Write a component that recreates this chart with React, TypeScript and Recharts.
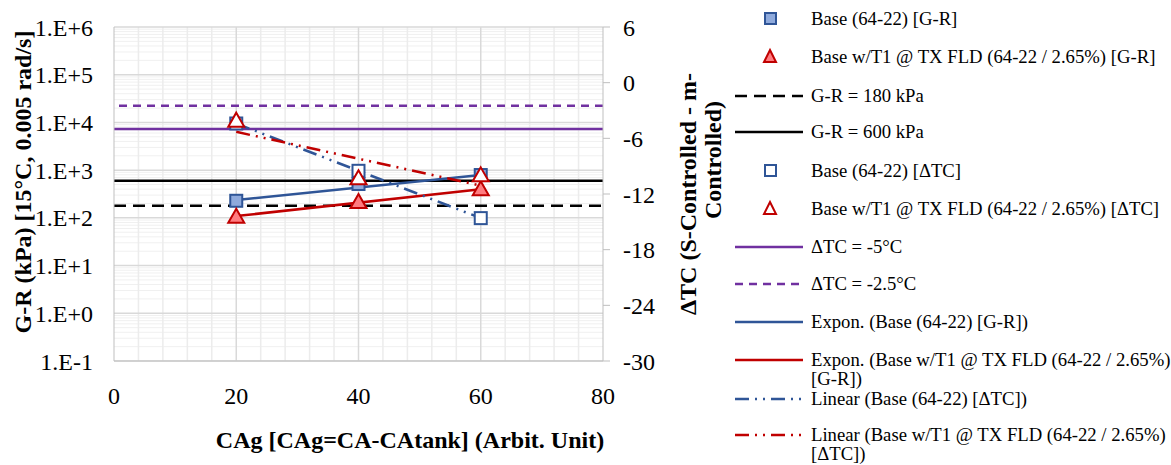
import React from "react";
import {
  ComposedChart,
  Scatter,
  Line,
  XAxis,
  YAxis,
  ReferenceLine,
} from "recharts";

// measured points (CAg on x)
const cag = [20, 40, 60];
const baseGR = [228, 512, 790];
const t1GR = [100, 204, 378];
const baseDTC = [-4.4, -9.5, -14.6];
const t1DTC = [-4.2, -10.4, -10.1];

// trendline ends
const trendX = [20, 60];
const baseGRTrend = [236, 790];
const t1GRTrend = [109, 396];
const baseDTCTrend = [-4.4, -14.6];
const t1DTCTrend = [-5.3, -11.1];

// thresholds
const grLow = 180;
const grHigh = 600;
const dtcLow = -5;
const dtcHigh = -2.5;

const xTicks = [0, 20, 40, 60, 80];
const leftTicks = [0.1, 1, 10, 100, 1000, 10000, 100000, 1000000];
const rightTicks = [-30, -24, -18, -12, -6, 0, 6];

const BLUE = "#2F5597";
const BLUE_FILL = "#8FAADC";
const RED = "#C00000";
const RED_FILL = "#FF7C80";
const PURPLE = "#7030A0";
const FONT = "Liberation Serif, Times New Roman, serif";

const pts = (xs: number[], ys: number[]) => xs.map((x, i) => ({ x, y: ys[i] }));

// excel-style minor grid positions
const minorY: number[] = [];
for (let e = -1; e < 6; e++) for (let m = 2; m <= 9; m++) minorY.push(m * Math.pow(10, e));
const minorX: number[] = [];
for (let v = 4; v < 80; v += 4) if (v % 20 !== 0) minorX.push(v);

const fmtExp = (v: number) => {
  const e = Math.round(Math.log10(v));
  return "1.E" + (e >= 0 ? "+" : "-") + Math.abs(e);
};

const square = (fill: string) => (p: any) =>
  <rect x={p.cx - 6} y={p.cy - 6} width={12} height={12} fill={fill} stroke={BLUE} strokeWidth={2} />;
const triangle = (fill: string) => (p: any) =>
  <polygon points={`${p.cx},${p.cy - 9} ${p.cx + 8},${p.cy + 5} ${p.cx - 8},${p.cy + 5}`} fill={fill} stroke={RED} strokeWidth={2} />;

type Sym = { kind: "sq" | "tri" | "line"; fill?: string; stroke: string; dash?: string };
const legendItems: { label: string[]; y: number; sym: Sym }[] = [
  { label: ["Base (64-22) [G-R]"], y: 19, sym: { kind: "sq", fill: BLUE_FILL, stroke: BLUE } },
  { label: ["Base w/T1 @ TX FLD (64-22 / 2.65%) [G-R]"], y: 57, sym: { kind: "tri", fill: RED_FILL, stroke: RED } },
  { label: ["G-R = 180 kPa"], y: 96, sym: { kind: "line", stroke: "#000", dash: "12 7" } },
  { label: ["G-R = 600 kPa"], y: 132, sym: { kind: "line", stroke: "#000" } },
  { label: ["Base (64-22) [\u0394TC]"], y: 171, sym: { kind: "sq", fill: "#fff", stroke: BLUE } },
  { label: ["Base w/T1 @ TX FLD (64-22 / 2.65%) [\u0394TC]"], y: 209, sym: { kind: "tri", fill: "#fff", stroke: RED } },
  { label: ["\u0394TC = -5\u00B0C"], y: 247, sym: { kind: "line", stroke: PURPLE } },
  { label: ["\u0394TC = -2.5\u00B0C"], y: 284, sym: { kind: "line", stroke: PURPLE, dash: "8 6" } },
  { label: ["Expon. (Base (64-22) [G-R])"], y: 322, sym: { kind: "line", stroke: BLUE } },
  { label: ["Expon. (Base w/T1 @ TX FLD (64-22 / 2.65%)", "[G-R])"], y: 360, sym: { kind: "line", stroke: RED } },
  { label: ["Linear (Base (64-22) [\u0394TC])"], y: 399, sym: { kind: "line", stroke: BLUE, dash: "14 6 2 6 2 6" } },
  { label: ["Linear (Base w/T1 @ TX FLD (64-22 / 2.65%)", "[\u0394TC])"], y: 435, sym: { kind: "line", stroke: RED, dash: "14 6 2 6 2 6" } },
];

function LegendSymbol({ sym }: { sym: Sym }) {
  return (
    <svg width={70} height={20} style={{ position: "absolute", left: 735, top: -10 }}>
      {sym.kind === "sq" && <rect x={30} y={4} width={11} height={11} fill={sym.fill} stroke={sym.stroke} strokeWidth={2} />}
      {sym.kind === "tri" && <polygon points="35,3 41,15 29,15" fill={sym.fill} stroke={sym.stroke} strokeWidth={2} />}
      {sym.kind === "line" && <line x1={0} y1={10} x2={68} y2={10} stroke={sym.stroke} strokeWidth={2.5} strokeDasharray={sym.dash} />}
    </svg>
  );
}

const titleStyle = { fontFamily: FONT, fontWeight: 700, fontSize: 24 };

export default function App() {
  return (
    <div style={{ position: "absolute", left: 0, top: 0, width: 1171, height: 465, background: "#fff", fontFamily: FONT }}>
      <style>{"svg text { font-family: 'Liberation Serif', 'Times New Roman', serif !important; }"}</style>
      <ComposedChart width={720} height={465} margin={{ top: 27, right: 0, bottom: 54, left: 0 }}>
        <XAxis
          type="number"
          dataKey="x"
          domain={[0, 80]}
          ticks={xTicks}
          height={50}
          stroke="#bfbfbf"
          tickLine={false}
          tickSize={0}
          tickMargin={26}
          tick={{ fill: "#000", fontSize: 24 }}
        />
        <YAxis
          yAxisId="left"
          type="number"
          scale="log"
          domain={[0.1, 1000000]}
          allowDataOverflow
          ticks={leftTicks}
          tickFormatter={fmtExp}
          width={114}
          stroke="#bfbfbf"
          tickLine={false}
          tickSize={0}
          tickMargin={21}
          tick={{ fill: "#000", fontSize: 24 }}
        />
        <YAxis
          yAxisId="right"
          orientation="right"
          type="number"
          domain={[-30, 6]}
          ticks={rightTicks}
          width={117}
          stroke="#bfbfbf"
          tickSize={7}
          tickMargin={13}
          tick={{ fill: "#000", fontSize: 24, textAnchor: "start" }}
        />

        {minorY.map((v) => (
          <ReferenceLine key={"my" + v} yAxisId="left" y={v} stroke="#f0f0f0" strokeWidth={1} />
        ))}
        {minorX.map((v) => (
          <ReferenceLine key={"mx" + v} yAxisId="left" x={v} stroke="#ececec" strokeWidth={1.5} />
        ))}
        {leftTicks.map((v) => (
          <ReferenceLine key={"My" + v} yAxisId="left" y={v} stroke="#d9d9d9" strokeWidth={1.5} />
        ))}
        {[20, 40, 60].map((v) => (
          <ReferenceLine key={"Mx" + v} yAxisId="left" x={v} stroke="#d9d9d9" strokeWidth={1.5} />
        ))}

        <ReferenceLine yAxisId="left" y={grLow} stroke="#000" strokeWidth={2.5} strokeDasharray="12 7" />
        <ReferenceLine yAxisId="left" y={grHigh} stroke="#000" strokeWidth={2.5} />
        <ReferenceLine yAxisId="right" y={dtcLow} stroke={PURPLE} strokeWidth={2.5} />
        <ReferenceLine yAxisId="right" y={dtcHigh} stroke={PURPLE} strokeWidth={2.5} strokeDasharray="8 6" />

        <Scatter yAxisId="left" data={pts(cag, baseGR)} dataKey="y" shape={square(BLUE_FILL)} isAnimationActive={false} />
        <Scatter yAxisId="left" data={pts(cag, t1GR)} dataKey="y" shape={triangle(RED_FILL)} isAnimationActive={false} />
        <Scatter yAxisId="right" data={pts(cag, baseDTC)} dataKey="y" shape={square("#fff")} isAnimationActive={false} />
        <Scatter yAxisId="right" data={pts(cag, t1DTC)} dataKey="y" shape={triangle("#fff")} isAnimationActive={false} />

        <Line yAxisId="left" data={pts(trendX, baseGRTrend)} dataKey="y" stroke={BLUE} strokeWidth={2.5} dot={false} isAnimationActive={false} />
        <Line yAxisId="left" data={pts(trendX, t1GRTrend)} dataKey="y" stroke={RED} strokeWidth={2.5} dot={false} isAnimationActive={false} />
        <Line yAxisId="right" data={pts(trendX, baseDTCTrend)} dataKey="y" stroke={BLUE} strokeWidth={2.5} strokeDasharray="14 6 2 6 2 6" dot={false} isAnimationActive={false} />
        <Line yAxisId="right" data={pts(trendX, t1DTCTrend)} dataKey="y" stroke={RED} strokeWidth={2.5} strokeDasharray="14 6 2 6 2 6" dot={false} isAnimationActive={false} />
      </ComposedChart>

      <svg width={1171} height={465} style={{ position: "absolute", left: 0, top: 0, pointerEvents: "none" }}>
        <text x={23} y={182} transform="rotate(-90 23 182)" textAnchor="middle" dominantBaseline="central" style={titleStyle}>
          G-R (kPa) [15°C, 0.005 rad/s]
        </text>
        <text x={688} y={194} transform="rotate(-90 688 194)" textAnchor="middle" dominantBaseline="central" style={titleStyle}>
          ΔTC (S-Controlled - m-
        </text>
        <text x={713} y={160} transform="rotate(-90 713 160)" textAnchor="middle" dominantBaseline="central" style={titleStyle}>
          Controlled)
        </text>
        <text x={410} y={440} textAnchor="middle" dominantBaseline="central" style={titleStyle}>
          CAg [CAg=CA-CAtank] (Arbit. Unit)
        </text>
      </svg>

      {legendItems.map((it, i) => (
        <div key={i} style={{ position: "absolute", left: 0, top: it.y, width: 1171 }}>
          <LegendSymbol sym={it.sym} />
          <div style={{ position: "absolute", left: 811, top: -10, fontSize: 18.7, lineHeight: "19px", whiteSpace: "pre", color: "#000" }}>
            {it.label.join("\n")}
          </div>
        </div>
      ))}
    </div>
  );
}
